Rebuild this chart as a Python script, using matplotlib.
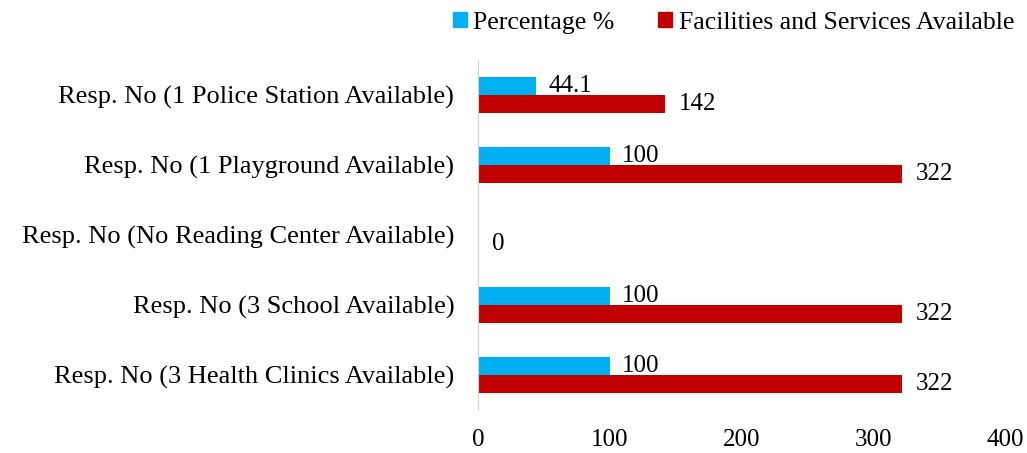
import numpy as np
import matplotlib.pyplot as plt
from matplotlib.patches import Patch

plt.rcParams['font.family'] = ['Liberation Serif', 'DejaVu Serif']

categories = ['Resp. No (1 Police Station Available)',
              'Resp. No (1 Playground Available)',
              'Resp. No (No Reading Center Available)',
              'Resp. No (3 School Available)',
              'Resp. No (3 Health Clinics Available)']
percentage = [44.1, 100, 0, 100, 100]
facilities = [142, 322, 0, 322, 322]

blue = '#00B0F0'
red = '#C00000'

fig = plt.figure(figsize=(10.27, 4.53), dpi=100)
ax = fig.add_axes([0.4654, 0.0949, 0.5132, 0.7726])

y = np.arange(len(categories))
h = 0.26
ax.barh(y - h / 2, percentage, height=h, color=blue)
ax.barh(y + h / 2, facilities, height=h, color=red)

for i, (p, f) in enumerate(zip(percentage, facilities)):
    if p > 0:
        ax.annotate('{:g}'.format(p), (p, i - h / 2), xytext=(9, 0),
                    textcoords='offset points', va='center', ha='left', fontsize=18)
    ax.annotate('{:g}'.format(f), (f, i + h / 2), xytext=(10, 0),
                textcoords='offset points', va='center', ha='left', fontsize=18)

ax.set_xlim(0, 400)
ax.set_ylim(len(categories) - 0.5, -0.5)
ax.set_xticks([0, 100, 200, 300, 400])
ax.set_yticks(y)
ax.set_yticklabels(categories, fontsize=19)
ax.tick_params(axis='both', length=0)
ax.tick_params(axis='x', labelsize=18, pad=14)
ax.tick_params(axis='y', pad=17)
for s in ['top', 'right', 'bottom']:
    ax.spines[s].set_visible(False)
ax.spines['left'].set_color('#d0d0d0')

handles = [Patch(color=blue), Patch(color=red)]
fig.legend(handles, ['Percentage %', 'Facilities and Services Available'],
           loc='upper right', bbox_to_anchor=(1.01, 1.025), ncol=2, frameon=False,
           fontsize=18.5, handlelength=0.55, handleheight=0.55, handletextpad=0.25,
           columnspacing=1.7)

fig.savefig('out.png')
